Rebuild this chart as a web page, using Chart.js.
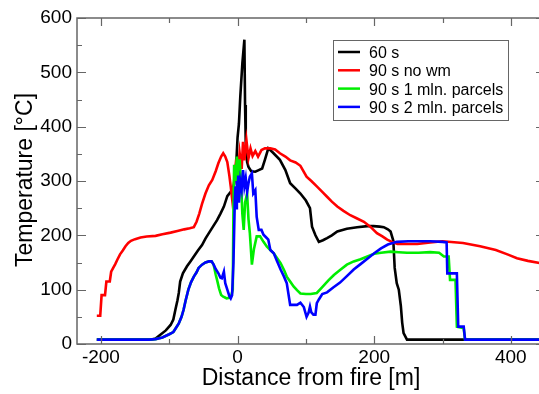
<!DOCTYPE html>
<html>
<head>
<meta charset="utf-8">
<title>Temperature vs distance from fire</title>
<script src="https://cdn.jsdelivr.net/npm/chart.js@4"></script>
<style>
  html, body { margin: 0; padding: 0; background: #fff; overflow: hidden; }
  #wrap { width: 539px; height: 394px; overflow: hidden; position: relative; }
  #tempChart { display: block; }
</style>
</head>
<body>
<div id="wrap">
  <canvas id="tempChart" width="560" height="394"></canvas>
</div>
<script>
// axis ticks
const distanceTicks = [-200, 0, 200, 400];
const distanceMinorTicks = [-100, 100, 300];
const temperatureTicks = [0, 100, 200, 300, 400, 500, 600];
const temperatureMinorTicks = [50, 150, 250, 350, 450, 550];

const seriesLabels = ['60 s', '90 s no wm', '90 s 1 mln. parcels', '90 s 2 mln. parcels'];

// [distance m, temperature °C]
const temp60s = [
    [-206, 8], [-128, 8], [-120, 10], [-113, 17], [-105, 25], [-98, 35], [-94, 45], [-91, 63],
    [-88, 80], [-86, 94], [-84, 115], [-80, 130], [-74, 143], [-69, 152], [-64, 161], [-58, 172],
    [-52, 182], [-47, 194], [-42, 204], [-36, 216], [-30, 228], [-25, 240], [-20, 253], [-15, 272],
    [-10, 280], [-7, 285], [-5, 295], [-2, 330], [0, 380], [2, 405], [4, 455], [7, 516], [10, 560],
    [11, 440], [12, 370], [14, 335], [16, 326], [20, 318], [26, 317], [31, 320], [36, 323], [40, 339],
    [45, 360], [52, 352], [62, 339], [70, 320], [77, 296], [85, 286], [92, 277], [100, 264], [106, 250],
    [109, 216], [114, 200], [119, 188], [125, 191], [131, 195], [138, 200], [146, 207], [160, 212],
    [175, 215], [190, 217], [199, 217], [208, 216], [214, 215], [220, 211], [224, 207], [228, 190],
    [230, 140], [233, 112], [236, 100], [239, 70], [241, 39], [243, 20], [248, 8], [450, 8]
];

const temp90sNoWm = [
    [-206, 52], [-201, 52], [-199, 90], [-194, 90], [-192, 115], [-187, 115], [-185, 133], [-182, 140],
    [-179, 147], [-176, 155], [-172, 165], [-168, 172], [-164, 180], [-160, 186], [-156, 190], [-150, 193],
    [-142, 196], [-133, 198], [-120, 199], [-110, 202], [-98, 205], [-88, 208], [-78, 211], [-70, 213],
    [-64, 215], [-60, 225], [-56, 240], [-52, 258], [-47, 277], [-42, 292], [-37, 302], [-32, 318],
    [-28, 333], [-24, 345], [-21, 351], [-18, 345], [-15, 335], [-12, 310], [-10, 290], [-8, 268],
    [-5, 300], [-2, 340], [0, 305], [3, 352], [6, 322], [8, 372], [10, 338], [13, 375], [16, 342],
    [19, 360], [22, 346], [26, 355], [30, 345], [35, 357], [40, 360], [48, 360], [55, 358], [62, 351],
    [70, 345], [77, 338], [85, 334], [92, 328], [101, 308], [108, 300], [116, 290], [124, 280],
    [131, 271], [138, 262], [146, 253], [155, 245], [165, 237], [175, 231], [185, 225], [195, 215],
    [204, 204], [212, 198], [219, 192], [226, 188], [234, 184], [250, 184], [263, 184], [282, 187],
    [300, 189], [330, 186], [355, 180], [378, 173], [395, 165], [409, 158], [425, 153], [442, 149],
    [450, 147]
];

const temp90s1mln = [
    [-206, 8], [-130, 8], [-120, 9], [-110, 12], [-100, 18], [-94, 22], [-90, 30], [-86, 38],
    [-82, 50], [-79, 63], [-76, 80], [-72, 100], [-68, 114], [-64, 124], [-60, 132], [-57, 140],
    [-52, 146], [-47, 150], [-42, 152], [-38, 152], [-35, 146], [-32, 128], [-30, 118], [-27, 102],
    [-24, 90], [-21, 87], [-19, 86], [-16, 84], [-12, 85], [-9, 90], [-7, 100], [-6, 250], [-5, 330],
    [-3, 300], [-1, 345], [1, 270], [3, 340], [5, 300], [7, 240], [9, 210], [11, 260], [14, 277],
    [16, 230], [18, 204], [21, 146], [24, 175], [28, 198], [33, 198], [38, 188], [43, 179], [48, 173],
    [53, 167], [58, 158], [63, 149], [68, 136], [72, 124], [77, 115], [82, 106], [87, 99], [92, 93],
    [100, 92], [107, 92], [116, 94], [125, 106], [133, 117], [141, 127], [150, 136], [160, 146],
    [170, 152], [180, 156], [190, 161], [200, 166], [210, 168], [224, 170], [236, 169], [248, 168],
    [265, 168], [282, 169], [295, 168], [302, 161], [309, 161], [311, 118], [319, 118], [321, 32],
    [331, 29], [333, 8], [450, 8]
];

const temp90s2mln = [
    [-206, 8], [-130, 8], [-120, 9], [-110, 12], [-100, 18], [-94, 22], [-90, 30], [-86, 38],
    [-82, 50], [-79, 63], [-76, 80], [-72, 100], [-68, 114], [-64, 124], [-60, 132], [-57, 140],
    [-52, 146], [-47, 150], [-42, 152], [-38, 152], [-35, 146], [-32, 138], [-28, 130], [-25, 122],
    [-23, 121], [-20, 133], [-18, 112], [-15, 100], [-12, 88], [-10, 84], [-8, 90], [-6, 150],
    [-4, 265], [-3, 290], [-2, 250], [-1, 300], [0, 270], [1, 310], [2, 260], [4, 300], [6, 285],
    [8, 320], [10, 290], [12, 305], [14, 280], [16, 296], [18, 308], [21, 314], [23, 277], [26, 283],
    [28, 234], [31, 210], [35, 210], [38, 201], [42, 196], [45, 192], [48, 173], [53, 167], [58, 152],
    [63, 137], [68, 124], [72, 112], [77, 72], [82, 72], [87, 72], [92, 76], [97, 68], [101, 50],
    [104, 58], [106, 69], [108, 58], [111, 54], [114, 54], [116, 75], [119, 82], [124, 92], [131, 95],
    [140, 104], [150, 113], [160, 125], [170, 137], [180, 147], [190, 157], [200, 167], [210, 176],
    [220, 183], [233, 188], [250, 189], [282, 189], [300, 188], [306, 187], [307, 130], [321, 130],
    [323, 32], [331, 32], [333, 8], [450, 8]
];

// frame, inward ticks, axis titles and legend box
const plotDecor = {
    id: 'plotDecor',
    afterDatasetsDraw(chart) {
        const ctx = chart.ctx;
        const a = chart.chartArea;
        const xs = chart.scales.x;
        const ys = chart.scales.y;

        ctx.save();
        ctx.strokeStyle = '#666';
        ctx.lineWidth = 1.5;
        ctx.strokeRect(a.left, a.top, a.right - a.left, a.bottom - a.top);

        ctx.beginPath();
        const xTick = (v, len) => {
            const px = Math.round(xs.getPixelForValue(v)) + 0.5;
            ctx.moveTo(px, a.bottom); ctx.lineTo(px, a.bottom - len);
            ctx.moveTo(px, a.top); ctx.lineTo(px, a.top + len);
        };
        const yTick = (v, len) => {
            const py = Math.round(ys.getPixelForValue(v)) + 0.5;
            ctx.moveTo(a.left, py); ctx.lineTo(a.left + len, py);
            ctx.moveTo(a.right, py); ctx.lineTo(a.right - len, py);
        };
        distanceTicks.forEach(v => xTick(v, 8));
        distanceMinorTicks.forEach(v => xTick(v, 5));
        temperatureTicks.forEach(v => yTick(v, 9));
        temperatureMinorTicks.forEach(v => yTick(v, 5));
        ctx.lineWidth = 1.2;
        ctx.stroke();

        // axis titles
        ctx.fillStyle = '#000';
        ctx.font = '23px "Liberation Sans", Arial, sans-serif';
        ctx.textAlign = 'center';
        ctx.textBaseline = 'alphabetic';
        ctx.fillText('Distance from fire [m]', (a.left + a.right) / 2, 385);

        ctx.save();
        ctx.translate(32, 180);
        ctx.rotate(-Math.PI / 2);
        ctx.fillText('Temperature [°C]', 0, 0);
        ctx.restore();

        // legend
        const box = { x: 333.5, y: 40.5, w: 175, h: 80 };
        ctx.fillStyle = '#fff';
        ctx.fillRect(box.x, box.y, box.w, box.h);
        ctx.strokeStyle = '#666';
        ctx.lineWidth = 1;
        ctx.strokeRect(box.x, box.y, box.w, box.h);

        ctx.font = '16px "Liberation Sans", Arial, sans-serif';
        ctx.textAlign = 'left';
        chart.data.datasets.forEach((ds, i) => {
            const rowY = 52 + i * 18.3;
            ctx.strokeStyle = ds.borderColor;
            ctx.lineWidth = 2.5;
            ctx.beginPath();
            ctx.moveTo(338, rowY);
            ctx.lineTo(360, rowY);
            ctx.stroke();
            ctx.fillStyle = '#000';
            ctx.fillText(ds.label, 369, rowY + 6);
        });
        ctx.restore();
    }
};

const lineColors = ['#000000', '#ff0000', '#00ee00', '#0000ff'];
const allSeries = [temp60s, temp90sNoWm, temp90s1mln, temp90s2mln];

const ctx = document.getElementById('tempChart').getContext('2d');
new Chart(ctx, {
    type: 'line',
    data: {
        datasets: allSeries.map((s, i) => ({
            label: seriesLabels[i],
            data: s,
            borderColor: lineColors[i],
            borderWidth: 2.6,
            pointRadius: 0,
            tension: 0,
            fill: false,
            order: allSeries.length - i  // later series drawn on top
        }))
    },
    options: {
        responsive: false,
        animation: false,
        devicePixelRatio: 1,
        layout: { padding: { top: 18, right: 15, left: 0, bottom: 0 } },
        plugins: {
            legend: { display: false },
            tooltip: { enabled: false }
        },
        scales: {
            x: {
                type: 'linear',
                min: -235,
                max: 450,
                grid: { display: false, drawTicks: false },
                border: { display: false },
                afterBuildTicks: s => { s.ticks = distanceTicks.map(v => ({ value: v })); },
                afterFit: s => { s.height = 50; },
                ticks: {
                    color: '#000',
                    padding: 2,
                    maxRotation: 0,
                    font: { size: 19, family: '"Liberation Sans", Arial, sans-serif' }
                }
            },
            y: {
                type: 'linear',
                min: 0,
                max: 600,
                grid: { display: false, drawTicks: false },
                border: { display: false },
                afterBuildTicks: s => { s.ticks = temperatureTicks.map(v => ({ value: v })); },
                afterFit: s => { s.width = 77; },
                ticks: {
                    color: '#000',
                    padding: 5,
                    font: { size: 19, family: '"Liberation Sans", Arial, sans-serif' }
                }
            }
        }
    },
    plugins: [plotDecor]
});
</script>
</body>
</html>
